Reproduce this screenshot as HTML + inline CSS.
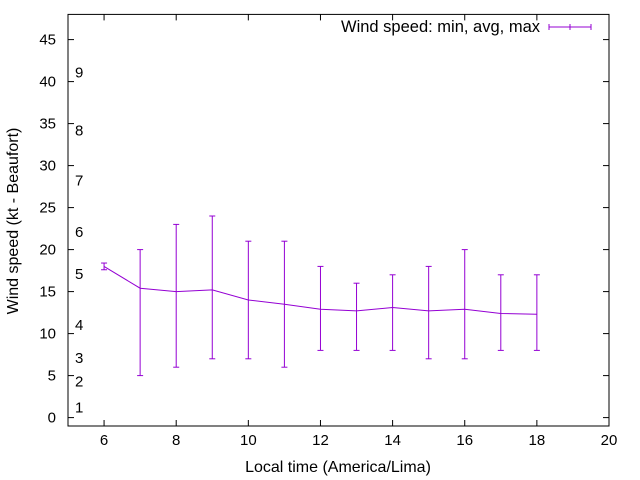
<!DOCTYPE html>
<html><head><meta charset="utf-8"><style>
body{margin:0;background:#fff}
svg{display:block;font-family:"Liberation Sans",sans-serif;font-size:15px}
</style></head><body>
<svg id="c" width="640" height="480" xmlns="http://www.w3.org/2000/svg"></svg>
<script>
const hours=[6,7,8,9,10,11,12,13,14,15,16,17,18];
const avgSpeed=[18,15.4,15,15.2,14,13.5,12.9,12.7,13.1,12.7,12.9,12.4,12.3];
const minSpeed=[17.6,5,6,7,7,6,8,8,8,7,7,8,8];
const maxSpeed=[18.4,20,23,24,21,21,18,16,17,18,20,17,17];
const xTicks=[6,8,10,12,14,16,18,20];
const yTicks=[0,5,10,15,20,25,30,35,40,45];
const beaufortLabels=["1","2","3","4","5","6","7","8","9"];
const beaufortPos=[1.2,4.3,7.1,11,17.1,22.1,28.2,34.2,41.1];
const L=68,R=609,T=14.4,B=426;
const X=v=>L+(v-5)*(R-L)/15;
const Y=v=>B-(v+1)*(B-T)/49;
const svg=document.getElementById('c');
const NS='http://www.w3.org/2000/svg';
function add(tag,attrs,name,text){const e=document.createElementNS(NS,tag);for(const k in attrs)e.setAttribute(k,attrs[k]);


if(text!==undefined)e.textContent=text;svg.appendChild(e);return e;}
add('rect',{x:L,y:T,width:R-L,height:B-T,fill:'none',stroke:'#000','stroke-width':1},'plot-frame');
xTicks.forEach(t=>{const x=X(t);
add('line',{x1:x,y1:B,x2:x,y2:B-6,stroke:'#000'},'x-tick');
add('line',{x1:x,y1:T,x2:x,y2:T+6,stroke:'#000'},'x-tick-mirror');
add('text',{x:x,y:B+19,'text-anchor':'middle'},'x-tick-label',t);});
yTicks.forEach(t=>{const y=Y(t);
add('line',{x1:L,y1:y,x2:L+6,y2:y,stroke:'#000'},'y-tick');
add('line',{x1:R,y1:y,x2:R-6,y2:y,stroke:'#000'},'y-tick-mirror');
add('text',{x:L-12,y:y+5,'text-anchor':'end'},'y-tick-label',t);});
beaufortLabels.forEach((b,i)=>add('text',{x:75,y:Y(beaufortPos[i])+5},'beaufort-label',b));
add('text',{x:338,y:472,'text-anchor':'middle','font-size':'16px'},'x-axis-title','Local time (America/Lima)');
add('text',{x:18,y:221,'text-anchor':'middle','font-size':'16px',transform:'rotate(-90 18 221)'},'y-axis-title','Wind speed (kt - Beaufort)');
const col='#9400d3';
hours.forEach((h,i)=>{const x=X(h);
add('line',{x1:x,y1:Y(minSpeed[i]),x2:x,y2:Y(maxSpeed[i]),stroke:col},'error-bar');
add('line',{x1:x-3,y1:Y(minSpeed[i]),x2:x+3,y2:Y(minSpeed[i]),stroke:col},'error-bar-min');
add('line',{x1:x-3,y1:Y(maxSpeed[i]),x2:x+3,y2:Y(maxSpeed[i]),stroke:col},'error-bar-max');});
add('polyline',{points:hours.map((h,i)=>X(h)+','+Y(avgSpeed[i])).join(' '),fill:'none',stroke:col},'avg-line');
add('text',{x:540,y:32,'text-anchor':'end','font-size':'16.5px'},'legend-label','Wind speed: min, avg, max');
add('line',{x1:549,y1:27,x2:591,y2:27,stroke:col},'legend-sample');
add('line',{x1:549,y1:24,x2:549,y2:30,stroke:col},'legend-cap-left');
add('line',{x1:591,y1:24,x2:591,y2:30,stroke:col},'legend-cap-right');
add('line',{x1:570,y1:24,x2:570,y2:30,stroke:col},'legend-cap-mid');
</script>
</body></html>
